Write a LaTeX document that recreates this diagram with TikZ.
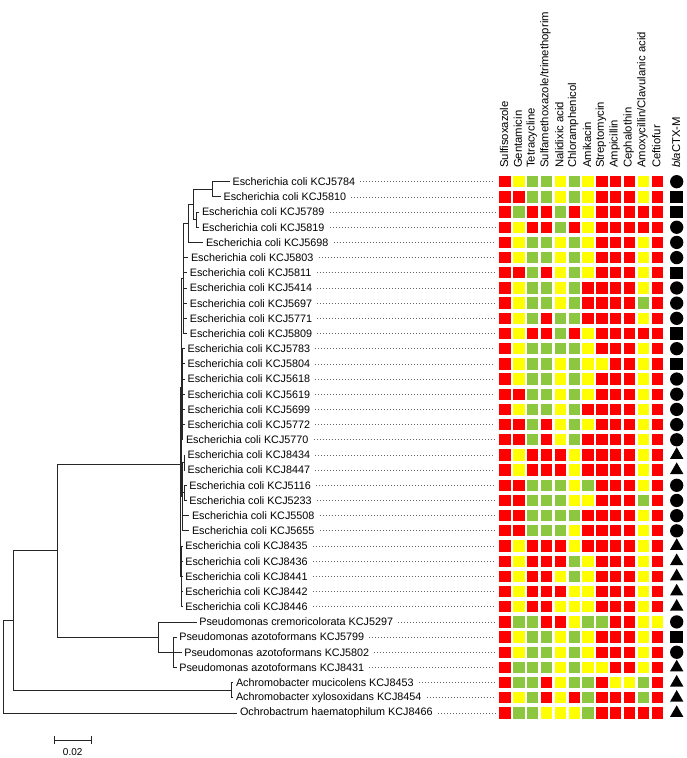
\documentclass[tikz,border=0pt]{standalone}
\usepackage{fontspec}
\setmainfont{Liberation Sans}
\usetikzlibrary{shapes.geometric}
\definecolor{hR}{RGB}{255,0,0}
\definecolor{hY}{RGB}{255,255,0}
\definecolor{hG}{RGB}{141,198,63}
\begin{document}
\begin{tikzpicture}[x=1pt,y=-1pt,
  br/.style={line width=0.8pt, draw=black!85},
  lab/.style={anchor=west, inner sep=0pt, font=\fontsize{10.8}{12}\selectfont},
  leader/.style={draw=black!60, line width=0.7pt, dash pattern=on 0.7pt off 2.3pt},
  cell/.style={rectangle, minimum size=11.3pt, inner sep=0pt},
  hdr/.style={rotate=90, anchor=west, inner sep=0pt, font=\fontsize{11.3}{12}\selectfont},
  mcirc/.style={circle, fill=black, minimum size=13.3pt, inner sep=0pt},
  msq/.style={rectangle, fill=black, minimum size=12.5pt, inner sep=0pt},
  mtri/.style={regular polygon, regular polygon sides=3, fill=black, minimum size=15.5pt, inner sep=0pt},
]
\useasboundingbox (0,0) rectangle (686,758);

% ---------- leaf ends ----------
\foreach \i/\ex in {1/229.8,2/220.8,3/199.2,4/199.2,5/203.2,6/188.2,7/187,8/187,9/187,10/187,11/187,
  12/184.8,13/184.8,14/184.8,15/184.8,16/184.8,17/184.8,18/183.2,19/184.8,20/184.8,21/186.5,22/186.5,
  23/189.2,24/189.2,25/182.5,26/182.5,27/182.5,28/182.5,29/182.5,30/196.5,31/176.5,32/181.5,33/176.5,
  34/233.2,35/233.2,36/237.2}
  \coordinate (e\i) at (\ex,{181.7+15.18*(\i-1)});

% ---------- internal nodes ----------
\coordinate (R0) at (3.5,666.7);
\coordinate (nA) at (13.5,620.4);
\coordinate (nB) at (57.3,550.5);
\coordinate (nAch) at (231,690.2);
\coordinate (nEc) at (180,464);
\coordinate (nPs) at (158,637.1);
\coordinate (nPaz) at (173.3,652.28);
\coordinate (nUp) at (181,387.6);
\coordinate (nLo) at (181.5,576.38);
\coordinate (nGA) at (183.3,278.5);
\coordinate (nGB) at (182.2,394.22);
\coordinate (nL1) at (182.8,496.7);
\coordinate (nP1920) at (184,462.53);
\coordinate (nP2122) at (184.5,492.89);
\coordinate (nN15) at (188.3,223.5);
\coordinate (nN1234) at (193.3,204.5);
\coordinate (nN12) at (212.7,189.29);
\coordinate (nN34) at (196,219.65);

% ---------- branches ----------
\draw[br] (R0) |- (nA);
\draw[br] (R0) |- (e36);
\draw[br] (nA) |- (nB);
\draw[br] (nA) |- (nAch);
\draw[br] (nAch) |- (e34);
\draw[br] (nAch) |- (e35);
\draw[br] (nB) |- (nEc);
\draw[br] (nB) |- (nPs);
\draw[br] (nPs) |- (e30);
\draw[br] (nPs) |- (nPaz);
\foreach \c in {31,32,33} \draw[br] (nPaz) |- (e\c);
\draw[br] (nEc) |- (nUp);
\draw[br] (nEc) |- (nLo);
\foreach \c in {25,...,29} \draw[br] (nLo) |- (e\c);
\draw[br] (nUp) |- (nGA);
\draw[br] (nUp) |- (nGB);
\draw[br] (nUp) |- (nL1);
\draw[br] (nGA) |- (nN15);
\foreach \c in {6,...,11} \draw[br] (nGA) |- (e\c);
\draw[br] (nN15) |- (nN1234);
\draw[br] (nN15) |- (e5);
\draw[br] (nN1234) |- (nN12);
\draw[br] (nN1234) |- (nN34);
\draw[br] (nN12) |- (e1);
\draw[br] (nN12) |- (e2);
\draw[br] (nN34) |- (e3);
\draw[br] (nN34) |- (e4);
\foreach \c in {12,...,18} \draw[br] (nGB) |- (e\c);
\draw[br] (nL1) |- (nP1920);
\draw[br] (nL1) |- (nP2122);
\draw[br] (nL1) |- (e23);
\draw[br] (nL1) |- (e24);
\draw[br] (nP1920) |- (e19);
\draw[br] (nP1920) |- (e20);
\draw[br] (nP2122) |- (e21);
\draw[br] (nP2122) |- (e22);

% ---------- labels and leaders ----------
\coordinate (dend) at (495,0);
\foreach \i/\name in {1/{Escherichia coli KCJ5784},2/{Escherichia coli KCJ5810},3/{Escherichia coli KCJ5789},
  4/{Escherichia coli KCJ5819},5/{Escherichia coli KCJ5698},6/{Escherichia coli KCJ5803},
  7/{Escherichia coli KCJ5811},8/{Escherichia coli KCJ5414},9/{Escherichia coli KCJ5697},
  10/{Escherichia coli KCJ5771},11/{Escherichia coli KCJ5809},12/{Escherichia coli KCJ5783},
  13/{Escherichia coli KCJ5804},14/{Escherichia coli KCJ5618},15/{Escherichia coli KCJ5619},
  16/{Escherichia coli KCJ5699},17/{Escherichia coli KCJ5772},18/{Escherichia coli KCJ5770},
  19/{Escherichia coli KCJ8434},20/{Escherichia coli KCJ8447},21/{Escherichia coli KCJ5116},
  22/{Escherichia coli KCJ5233},23/{Escherichia coli KCJ5508},24/{Escherichia coli KCJ5655},
  25/{Escherichia coli KCJ8435},26/{Escherichia coli KCJ8436},27/{Escherichia coli KCJ8441},
  28/{Escherichia coli KCJ8442},29/{Escherichia coli KCJ8446},30/{Pseudomonas cremoricolorata KCJ5297},
  31/{Pseudomonas azotoformans KCJ5799},32/{Pseudomonas azotoformans KCJ5802},
  33/{Pseudomonas azotoformans KCJ8431},34/{Achromobacter mucicolens KCJ8453},
  35/{Achromobacter xylosoxidans KCJ8454},36/{Ochrobactrum haematophilum KCJ8466}}
{
  \node[lab] (t\i) at ([xshift=2.6pt]e\i) {\name};
  \draw[leader] ([xshift=5pt]t\i.east) -- (t\i.east -| dend);
}

% ---------- header ----------
\foreach \j/\name in {1/{Sulfisoxazole},2/{Gentamicin},3/{Tetracycline},4/{Sulfamethoxazole/trimethoprim},
  5/{Nalidixic acid},6/{Chloramphenicol},7/{Amikacin},8/{Streptomycin},9/{Ampicillin},
  10/{Cephalothin},11/{Amoxycillin/Clavulanic acid},12/{Ceftiofur}}
  \node[hdr] (h\j) at ({505+13.85*(\j-1)-1},168) {\name};
\node[hdr] (h13) at (676,168) {\textit{bla}CTX-M};

% ---------- heatmap ----------
\foreach \row [count=\i] in {
 {R,Y,G,G,Y,G,Y,R,R,R,Y,R},
 {R,R,G,G,Y,G,Y,R,R,R,Y,R},
 {R,G,R,R,G,R,Y,R,R,R,R,R},
 {R,Y,R,R,G,R,Y,R,R,R,R,R},
 {R,Y,G,G,Y,G,Y,R,R,R,Y,R},
 {R,Y,G,G,Y,G,Y,R,R,R,Y,R},
 {R,R,G,R,Y,G,Y,R,R,R,Y,R},
 {R,Y,G,G,Y,G,R,R,R,R,Y,R},
 {R,Y,G,G,Y,G,R,R,R,R,G,R},
 {R,Y,G,R,G,G,R,R,R,R,Y,R},
 {R,Y,R,R,G,R,Y,R,R,R,R,R},
 {R,Y,G,G,G,G,Y,R,R,R,Y,R},
 {R,Y,G,G,Y,G,Y,Y,R,R,Y,R},
 {R,Y,G,G,Y,G,Y,R,R,R,Y,R},
 {R,R,G,G,Y,G,Y,R,R,R,Y,R},
 {R,Y,G,G,Y,G,R,R,R,R,Y,R},
 {R,R,G,R,Y,G,Y,R,R,R,Y,R},
 {R,R,G,R,Y,G,R,R,R,R,Y,R},
 {R,Y,R,R,R,Y,R,R,R,R,Y,R},
 {R,Y,R,R,R,Y,R,R,R,R,Y,R},
 {R,R,G,G,G,Y,G,R,R,R,Y,R},
 {R,R,G,G,G,Y,Y,R,R,R,G,R},
 {R,R,G,G,G,G,R,R,R,R,Y,R},
 {R,R,G,G,G,Y,R,R,R,R,Y,R},
 {R,Y,R,R,R,Y,R,R,R,R,Y,R},
 {R,Y,R,R,R,G,Y,R,R,R,Y,R},
 {R,Y,R,R,Y,G,Y,R,R,R,Y,R},
 {R,Y,R,R,R,Y,Y,R,R,R,Y,R},
 {R,Y,R,R,Y,Y,Y,R,R,R,Y,R},
 {R,G,G,R,R,Y,G,G,R,R,Y,Y},
 {R,Y,G,G,Y,G,Y,R,R,R,Y,R},
 {R,Y,G,G,Y,G,Y,R,R,R,Y,R},
 {R,G,G,G,Y,G,Y,Y,R,R,Y,R},
 {R,G,G,R,Y,G,G,R,Y,Y,G,R},
 {R,Y,G,R,Y,R,G,R,R,R,G,R},
 {R,G,G,Y,Y,Y,G,R,R,R,R,R}}
{
  \foreach \c [count=\j] in \row
    \node[cell, fill=h\c] (c-\i-\j) at ({505+13.85*(\j-1)},{181.7+15.18*(\i-1)}) {};
}

% ---------- blaCTX-M markers ----------
\foreach \s [count=\i] in {mcirc,msq,msq,mcirc,mcirc,mcirc,msq,mcirc,mcirc,mcirc,msq,mcirc,msq,mcirc,
  mcirc,mcirc,mcirc,mcirc,mtri,mtri,mcirc,mcirc,mcirc,mcirc,mtri,mtri,mtri,mtri,mtri,mcirc,msq,mcirc,
  mtri,mtri,mtri,mtri}
  \node[\s] (m\i) at (676.7,{181.7+15.18*(\i-1)}) {};

% ---------- scale bar ----------
\coordinate (sb1) at (54.3,740);
\coordinate (sb2) at (91,740);
\draw[br] (sb1) -- (sb2);
\draw[br] ([yshift=4pt]sb1) -- ([yshift=-4pt]sb1);
\draw[br] ([yshift=4pt]sb2) -- ([yshift=-4pt]sb2);
\node[inner sep=0pt, font=\fontsize{10}{11}\selectfont] (sbl) at (72.7,752) {0.02};
\end{tikzpicture}
\end{document}
